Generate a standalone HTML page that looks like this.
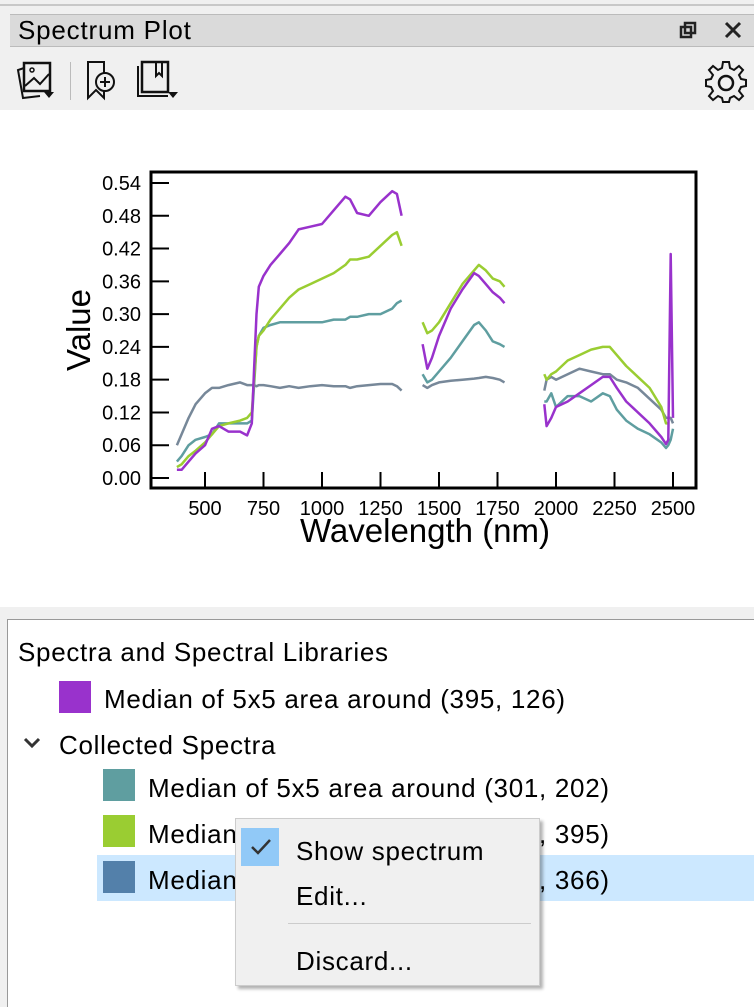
<!DOCTYPE html>
<html><head><meta charset="utf-8">
<style>
body{margin:0;width:754px;height:1006px;background:#f0f0f0;font-family:"Liberation Sans",sans-serif;position:relative;overflow:hidden}
.abs{position:absolute}
.txt{font-size:26px;letter-spacing:0.7px;color:#000;white-space:nowrap;line-height:1}
</style></head><body>
<div class="abs" style="left:0;top:4px;width:754px;height:2px;background:#c8c8c8"></div>
<div class="abs" style="left:10px;top:14px;width:744px;height:31px;background:#dadada;border-top:1px solid #bbb;border-bottom:1px solid #bbb"></div>
<div class="abs txt" style="left:18px;top:17px;font-size:26px;letter-spacing:0.8px">Spectrum Plot</div>
<svg class="abs" style="left:678px;top:20px" width="20" height="20"><rect x="3" y="7" width="10" height="10" fill="none" stroke="#222" stroke-width="2.5"/><rect x="7" y="3" width="10" height="10" fill="none" stroke="#222" stroke-width="2.5"/></svg>
<svg class="abs" style="left:723px;top:20px" width="20" height="20"><path d="M3 3L17 17M17 3L3 17" stroke="#222" stroke-width="3"/></svg>
<svg class="abs" style="left:14px;top:58px" width="46" height="44"><path d="M10 10L4 12L9 40L26 38" fill="none" stroke="#111" stroke-width="2"/><rect x="10" y="5" width="26" height="28" fill="none" stroke="#111" stroke-width="2.5"/><circle cx="18" cy="12" r="2" fill="none" stroke="#111" stroke-width="1.5"/><path d="M11 28L20 20L26 26L35 16" fill="none" stroke="#111" stroke-width="2"/><path d="M30 34L40 34L35 40Z" fill="#111"/></svg>
<div class="abs" style="left:70px;top:62px;width:1px;height:38px;background:#bbb"></div>
<svg class="abs" style="left:84px;top:58px" width="40" height="44"><path d="M4 4H20V40L12 32L4 40Z" fill="none" stroke="#111" stroke-width="2"/><circle cx="21" cy="24" r="9" fill="#f0f0f0" stroke="#111" stroke-width="2"/><path d="M21 19V29M16 24H26" stroke="#111" stroke-width="2"/></svg>
<svg class="abs" style="left:134px;top:58px" width="46" height="44"><path d="M4 8V38H34" fill="none" stroke="#111" stroke-width="2"/><path d="M8 4H34V34H8Z" fill="none" stroke="#111" stroke-width="2.5"/><path d="M22 4V18L25 15L28 18V4" fill="none" stroke="#111" stroke-width="2"/><path d="M34 34L44 34L39 40Z" fill="#111"/></svg>
<svg class="abs" style="left:704px;top:60px" width="44" height="44" viewBox="0 0 44 44"><path d="M19 3H25L26 9L30 11L35 7L39 11L35 16L37 20L42 21V27L37 28L35 32L39 37L35 41L30 37L26 39L25 43H19L18 39L14 37L9 41L5 37L9 32L7 28L2 27V21L7 20L9 16L5 11L9 7L14 11L18 9Z" transform="translate(0,-1)" fill="none" stroke="#111" stroke-width="2"/><circle cx="22" cy="23" r="7" fill="none" stroke="#111" stroke-width="2.5"/></svg>

<svg class="abs" id="chart" style="left:0;top:110px" width="754" height="497"></svg>

<div class="abs" style="left:7px;top:619px;width:747px;height:387px;background:#fff;border-left:1px solid #999;border-top:1px solid #999"></div>
<div class="abs txt" style="left:18px;top:639px">Spectra and Spectral Libraries</div>
<div class="abs" style="left:59px;top:681px;width:32px;height:32px;background:#9932cc"></div>
<div class="abs txt" style="left:104px;top:686px">Median of 5x5 area around (395, 126)</div>
<svg class="abs" style="left:22px;top:735px" width="20" height="16"><path d="M3 4L10 11L17 4" fill="none" stroke="#333" stroke-width="3"/></svg>
<div class="abs txt" style="left:59px;top:732px">Collected Spectra</div>
<div class="abs" style="left:97px;top:855px;width:657px;height:46px;background:#cce8ff"></div>
<div class="abs" style="left:103px;top:769px;width:32px;height:32px;background:#5f9ea0"></div>
<div class="abs txt" style="left:148px;top:775px">Median of 5x5 area around (301, 202)</div>
<div class="abs" style="left:103px;top:815px;width:32px;height:32px;background:#9acd32"></div>
<div class="abs txt" style="left:148px;top:821px">Median of 5x5 area around (301, 395)</div>
<div class="abs" style="left:103px;top:861px;width:32px;height:32px;background:#5380aa"></div>
<div class="abs txt" style="left:148px;top:867px">Median of 5x5 area around (301, 366)</div>

<div class="abs" style="left:235px;top:818px;width:303px;height:166px;background:#f0f0f0;border:1px solid #ccc;box-shadow:3px 3px 3px rgba(0,0,0,0.3)">
  <div class="abs" style="left:5px;top:9px;width:38px;height:38px;background:#91c9f7"></div>
  <svg class="abs" style="left:14px;top:18px" width="22" height="20"><path d="M2 10L8 16L20 3" fill="none" stroke="#333" stroke-width="2.5"/></svg>
  <div class="abs txt" style="left:60px;top:19px">Show spectrum</div>
  <div class="abs txt" style="left:60px;top:64px">Edit...</div>
  <div class="abs" style="left:52px;top:104px;width:243px;height:1px;background:#ccc"></div>
  <div class="abs txt" style="left:60px;top:129px">Discard...</div>
</div>

<script>
const wavelengths=[380,400,430,460,500,530,560,600,650,680,700,710,720,730,750,780,820,860,900,950,1000,1050,1100,1120,1150,1200,1250,1300,1320,1340,null,1430,1450,1470,1500,1550,1600,1650,1670,1700,1730,1760,1780,null,1950,1960,1980,2000,2050,2100,2150,2200,2230,2260,2300,2350,2400,2450,2470,2480,2490,2500];
const purpleValues=[0.015,0.015,0.03,0.045,0.06,0.09,0.095,0.085,0.085,0.078,0.1,0.2,0.3,0.35,0.37,0.39,0.41,0.43,0.455,0.46,0.465,0.49,0.515,0.51,0.485,0.48,0.505,0.525,0.52,0.48,null,0.245,0.2,0.22,0.26,0.31,0.345,0.375,0.37,0.355,0.34,0.33,0.32,null,0.135,0.095,0.11,0.13,0.14,0.155,0.17,0.185,0.185,0.165,0.14,0.12,0.1,0.075,0.062,0.07,0.41,0.11];
const greenValues=[0.02,0.025,0.04,0.05,0.065,0.08,0.095,0.1,0.105,0.11,0.12,0.18,0.24,0.26,0.27,0.29,0.31,0.33,0.345,0.355,0.365,0.375,0.39,0.4,0.4,0.405,0.425,0.445,0.45,0.425,null,0.285,0.265,0.27,0.285,0.32,0.355,0.38,0.39,0.38,0.365,0.36,0.35,null,0.19,0.18,0.19,0.195,0.215,0.225,0.235,0.24,0.24,0.225,0.205,0.185,0.165,0.13,0.1,0.1,null,null];
const tealValues=[0.03,0.04,0.06,0.07,0.075,0.08,0.1,0.1,0.1,0.1,0.105,0.17,0.24,0.26,0.275,0.28,0.285,0.285,0.285,0.285,0.285,0.29,0.29,0.295,0.295,0.3,0.3,0.31,0.32,0.325,null,0.19,0.175,0.18,0.195,0.22,0.25,0.28,0.285,0.27,0.25,0.245,0.24,null,0.14,0.14,0.155,0.13,0.15,0.15,0.14,0.155,0.15,0.125,0.105,0.09,0.08,0.065,0.055,0.06,0.07,0.09];
const grayValues=[0.06,0.08,0.11,0.135,0.155,0.165,0.165,0.17,0.175,0.17,0.17,0.17,0.168,0.17,0.17,0.168,0.165,0.168,0.165,0.168,0.17,0.168,0.168,0.165,0.168,0.17,0.172,0.172,0.168,0.16,null,0.17,0.165,0.17,0.175,0.178,0.18,0.182,0.183,0.185,0.183,0.18,0.175,null,0.16,0.18,0.185,0.18,0.19,0.2,0.195,0.19,0.19,0.18,0.175,0.165,0.145,0.125,0.11,0.11,0.11,0.1];
const seriesColors=['#778899','#5f9ea0','#9acd32','#9932cc'];
const seriesNames=['series-gray','series-teal','series-green','series-purple'];
const xTicks=[500,750,1000,1250,1500,1750,2000,2250,2500];
const yTicks=[0,0.06,0.12,0.18,0.24,0.30,0.36,0.42,0.48,0.54];

const NS='http://www.w3.org/2000/svg';
const svg=document.getElementById('chart');
const OY=110;
function xs(w){return 205+(w-500)*0.234;}
function ys(v){return 478-OY-v*546.3;}
function mk(t,a){const e=document.createElementNS(NS,t);for(const k in a)e.setAttribute(k,a[k]);svg.appendChild(e);return e;}
const bg=mk('rect',{x:0,y:0,width:754,height:497,fill:'#fff'});


const frame=mk('rect',{x:151,y:172-OY,width:545,height:316,fill:'none',stroke:'#000','stroke-width':3});


xTicks.forEach(t=>{
  const l=mk('line',{x1:xs(t),x2:xs(t),y1:488-OY,y2:472-OY,stroke:'#000','stroke-width':2});
  
  
  const tx=mk('text',{x:xs(t),y:515-OY,'text-anchor':'middle','font-size':20,'font-family':'Liberation Sans, sans-serif'});
  tx.textContent=t;
  
  
});
yTicks.forEach(t=>{
  const l=mk('line',{x1:151,x2:169,y1:ys(t),y2:ys(t),stroke:'#000','stroke-width':2});
  
  
  const tx=mk('text',{x:141,y:ys(t)+7,'text-anchor':'end','font-size':20,'font-family':'Liberation Sans, sans-serif'});
  tx.textContent=t.toFixed(2);
  
  
});
const xt=mk('text',{x:425,y:542-OY,'text-anchor':'middle','font-size':33,'font-family':'Liberation Sans, sans-serif'});
xt.textContent='Wavelength (nm)';


const yt=mk('text',{x:0,y:0,'text-anchor':'middle','font-size':33,'font-family':'Liberation Sans, sans-serif',transform:'translate(90,'+(330-OY)+') rotate(-90)'});
yt.textContent='Value';


[grayValues,tealValues,greenValues,purpleValues].forEach((vals,i)=>{
  let d='',pen=false;
  for(let k=0;k<wavelengths.length;k++){
    const w=wavelengths[k],v=vals[k];
    if(w===null||v===null){pen=false;continue;}
    d+=(pen?'L':'M')+xs(w).toFixed(1)+' '+ys(v).toFixed(1);pen=true;
  }
  const p=mk('path',{d:d,fill:'none',stroke:seriesColors[i],'stroke-width':2.5,'stroke-linejoin':'round'});
  
  
});
</script>
</body></html>
